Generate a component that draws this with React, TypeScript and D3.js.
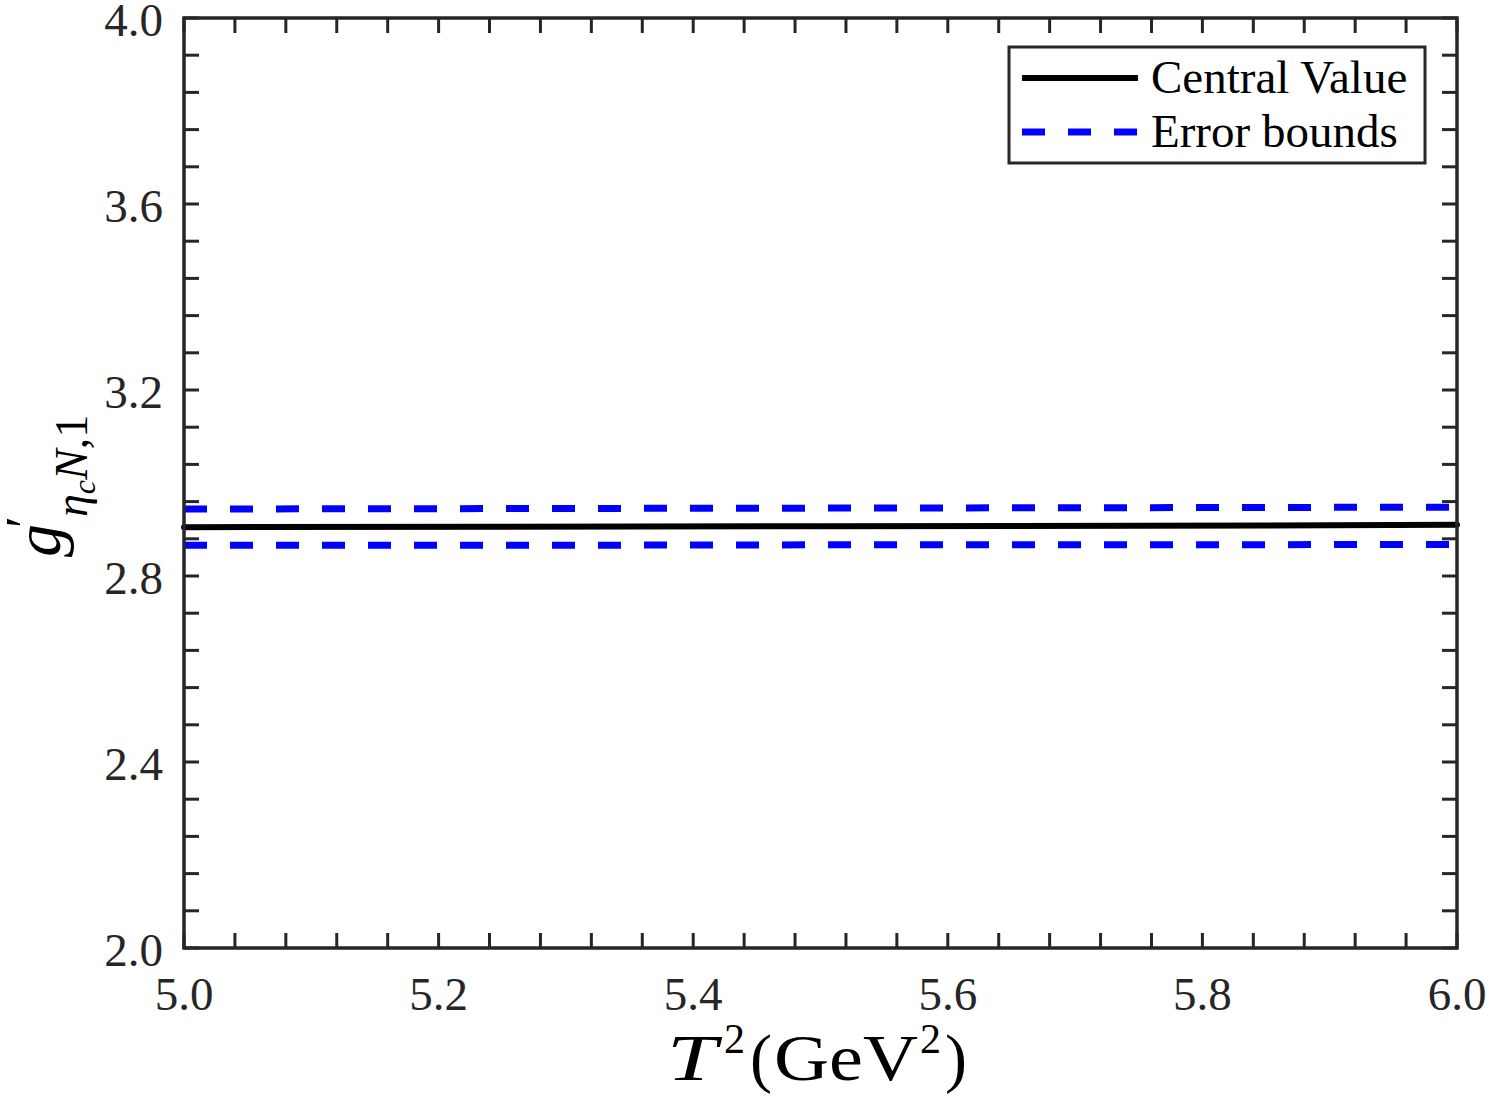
import React, { useEffect, useRef } from 'react';
import * as d3 from 'd3';

const xs = [5.0, 5.25, 5.5, 5.75, 6.0];
const central = [2.905, 2.906, 2.907, 2.908, 2.91];
const upper = [2.944, 2.945, 2.946, 2.947, 2.948];
const lower = [2.866, 2.866, 2.867, 2.867, 2.868];
const xTicks = [5.0, 5.2, 5.4, 5.6, 5.8, 6.0];
const yTicks = [2.0, 2.4, 2.8, 3.2, 3.6, 4.0];
const legendLabels = ['Central Value', 'Error bounds'];

const W = 1490;
const H = 1099;
const FONT = 'Liberation Serif, Times New Roman, serif';

export default function App() {
  const svgRef = useRef<SVGSVGElement>(null);

  useEffect(() => {
    if (!svgRef.current) return;
    const svg = d3.select(svgRef.current);
    svg.selectAll('*').remove();

    const margin = { top: 18, right: 33, bottom: 151, left: 184 };
    const iw = W - margin.left - margin.right;
    const ih = H - margin.top - margin.bottom;
    const axisColor = '#262626';

    const x = d3.scaleLinear().domain([5, 6]).range([0, iw]);
    const y = d3.scaleLinear().domain([2, 4]).range([ih, 0]);

    const g = svg.append('g').attr('transform', `translate(${margin.left},${margin.top})`);

    // minor ticks on all four sides
    const xMinor = d3.range(0, 26).map(i => 5 + i * 0.04);
    const yMinor = d3.range(0, 26).map(i => 2 + i * 0.08);
    const tl = 15;
    xMinor.forEach(v => {
      g.append('line').attr('x1', x(v)).attr('x2', x(v)).attr('y1', ih).attr('y2', ih - tl)
        .attr('stroke', axisColor).attr('stroke-width', 3);
      g.append('line').attr('x1', x(v)).attr('x2', x(v)).attr('y1', 0).attr('y2', tl)
        .attr('stroke', axisColor).attr('stroke-width', 3);
    });
    yMinor.forEach(v => {
      g.append('line').attr('x1', 0).attr('x2', tl).attr('y1', y(v)).attr('y2', y(v))
        .attr('stroke', axisColor).attr('stroke-width', 3);
      g.append('line').attr('x1', iw).attr('x2', iw - tl).attr('y1', y(v)).attr('y2', y(v))
        .attr('stroke', axisColor).attr('stroke-width', 3);
    });

    // tick labels
    xTicks.forEach(v => {
      g.append('text').attr('x', x(v)).attr('y', ih + 62)
        .attr('text-anchor', 'middle').style('font-family', FONT).attr('font-size', 47)
        .attr('fill', axisColor).text(v.toFixed(1));
    });
    yTicks.forEach(v => {
      g.append('text').attr('x', -21).attr('y', y(v) + 18)
        .attr('text-anchor', 'end').style('font-family', FONT).attr('font-size', 47)
        .attr('fill', axisColor).text(v.toFixed(1));
    });

    // data lines
    const line = d3.line<number>().x((_, i) => x(xs[i])).y(d => y(d));
    g.append('path').datum(upper).attr('d', line).attr('fill', 'none')
      .attr('stroke', '#0000ff').attr('stroke-width', 7).attr('stroke-dasharray', '23,23');
    g.append('path').datum(lower).attr('d', line).attr('fill', 'none')
      .attr('stroke', '#0000ff').attr('stroke-width', 7).attr('stroke-dasharray', '23,23');
    g.append('path').datum(central).attr('d', line).attr('fill', 'none')
      .attr('stroke', '#000').attr('stroke-width', 6).attr('stroke-linecap', 'round');

    // frame
    g.append('rect').attr('x', 0).attr('y', 0).attr('width', iw).attr('height', ih)
      .attr('fill', 'none').attr('stroke', axisColor).attr('stroke-width', 3.5);

    // legend
    const lg = svg.append('g');
    lg.append('rect').attr('x', 1009).attr('y', 47).attr('width', 416).attr('height', 116)
      .attr('fill', '#fff').attr('stroke', axisColor).attr('stroke-width', 3);
    lg.append('line').attr('x1', 1022).attr('x2', 1138).attr('y1', 78).attr('y2', 78)
      .attr('stroke', '#000').attr('stroke-width', 6);
    lg.append('line').attr('x1', 1022).attr('x2', 1138).attr('y1', 132).attr('y2', 132)
      .attr('stroke', '#0000ff').attr('stroke-width', 7).attr('stroke-dasharray', '23,23');
    legendLabels.forEach((t, i) => {
      lg.append('text').attr('x', 1151).attr('y', 93 + i * 54)
        .style('font-family', FONT).attr('font-size', 47).attr('fill', '#000').text(t);
    });

    // x axis label, T^2(GeV^2), pieces placed to mimic the math typesetting
    const xl = svg.append('g').style('font-family', FONT).attr('fill', '#000');
    const piece = (t: string, px: number, py: number, size: number, italic = false, len?: number) => {
      const el = xl.append('text').attr('x', px).attr('y', py).attr('font-size', size)
        .attr('font-style', italic ? 'italic' : 'normal').text(t);
      if (len) el.attr('textLength', len).attr('lengthAdjust', 'spacingAndGlyphs');
    };
    piece('T', 667, 1080, 66, true, 50);
    piece('2', 724, 1053, 42);
    piece('(', 750, 1080, 66);
    piece('GeV', 774, 1080, 66, false, 144);
    piece('2', 920, 1053, 42);
    piece(')', 945, 1080, 66);

    // y axis label (rotated frame: +x runs up the page, +y runs right)
    const yl = svg.append('text').attr('transform', 'translate(60,557) rotate(-90)')
      .style('font-family', FONT).attr('font-size', 66).attr('fill', '#000');
    yl.append('tspan').attr('x', 0).attr('y', 0).attr('font-style', 'italic').text('g');
    yl.append('tspan').attr('x', 29).attr('y', -17).attr('font-size', 54).text('′');
    yl.append('tspan').attr('x', 40).attr('y', 27).attr('font-size', 46).attr('font-style', 'italic').text('η');
    yl.append('tspan').attr('y', 35).attr('font-size', 32).attr('font-style', 'italic').text('c');
    yl.append('tspan').attr('y', 27).attr('font-size', 46).attr('font-style', 'italic').text('N');
    yl.append('tspan').attr('font-size', 46).text(',1');
  }, []);

  return (
    <svg
      ref={svgRef}
      width={W}
      height={H}
      style={{ position: 'absolute', left: 0, top: 0, display: 'block', background: '#fff' }}
    />
  );
}
